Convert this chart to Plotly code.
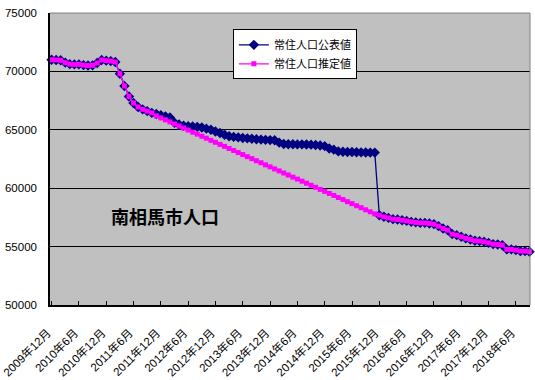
import plotly.graph_objects as go

# ---- data ----
start_year, start_month, n_months = 2009, 12, 106
months = []
y, m = start_year, start_month
for _ in range(n_months):
    months.append(f"{y}年{m}月")
    m += 1
    if m > 12:
        m = 1
        y += 1

published = [
    71000, 70980, 70950, 70750, 70620, 70600, 70600, 70540, 70500, 70520,
    70720, 70980, 70920, 70880, 70800, 69800, 68750, 67850, 67300, 66950,
    66750, 66600, 66450, 66350, 66250, 66150, 66050, 65600, 65450, 65350,
    65300, 65280, 65250, 65200, 65100, 65000, 64850, 64730, 64580, 64450,
    64390, 64350, 64300, 64270, 64230, 64190, 64160, 64140, 64120, 64100,
    63900, 63780, 63760, 63760, 63750, 63750, 63740, 63730, 63700, 63650,
    63600, 63400, 63300, 63150, 63120, 63100, 63100, 63080, 63070, 63060,
    63050, 63050, 57690, 57550, 57460, 57350, 57320, 57260, 57200, 57120,
    57070, 57030, 57030, 56980, 56920, 56750, 56550, 56410, 56070, 55980,
    55840, 55700, 55610, 55500, 55470, 55410, 55320, 55210, 55180, 55130,
    54760, 54760, 54700, 54610, 54610, 54560,
]

# estimate values that differ from the published series (2011-11 .. 2015-11)
estimate_mid = [
    66200, 66020, 65850, 65680, 65500, 65330, 65150, 64980, 64800, 64630,
    64450, 64280, 64100, 63930, 63750, 63580, 63400, 63230, 63050, 62880,
    62700, 62530, 62350, 62180, 62000, 61830, 61650, 61480, 61300, 61130,
    60950, 60780, 60600, 60430, 60250, 60080, 59900, 59730, 59550, 59380,
    59200, 59030, 58850, 58680, 58500, 58330, 58150, 57980, 57800,
]
estimate = published[:23] + estimate_mid + published[72:]

series_names = ["常住人口公表値", "常住人口推定値"]
tick_step = 6
y_ticks = [50000, 55000, 60000, 65000, 70000, 75000]
y_ticktext = [str(v) for v in y_ticks]
chart_title = "南相馬市人口"

x_idx = list(range(len(months)))
tickvals = x_idx[::tick_step]
ticktext = [months[i] for i in tickvals]

fig = go.Figure()
fig.add_trace(go.Scatter(
    x=x_idx, y=published, name=series_names[0], mode="lines+markers",
    line=dict(color="#000080", width=1.3),
    marker=dict(symbol="diamond", size=8, color="#000080"),
    cliponaxis=False,
))
fig.add_trace(go.Scatter(
    x=x_idx, y=estimate, name=series_names[1], mode="lines+markers",
    line=dict(color="#FF00FF", width=1.3),
    marker=dict(symbol="square", size=5, color="#FF00FF"),
    cliponaxis=False,
))

base_font = "Liberation Sans, Noto Sans CJK JP, sans-serif"

fig.update_layout(
    width=535, height=380,
    margin=dict(l=50, r=5, t=13, b=75),
    paper_bgcolor="white",
    plot_bgcolor="#C0C0C0",
    font=dict(family=base_font, color="black", size=11),
    showlegend=True,
    legend=dict(
        x=0.381, y=0.944, xanchor="left", yanchor="top",
        bgcolor="white", bordercolor="black", borderwidth=1,
        font=dict(family="Noto Sans CJK JP, sans-serif", size=11, color="black"),
        itemwidth=30, tracegroupgap=0,
    ),
    xaxis=dict(
        range=[-0.35, len(months) - 1 + 0.1],
        tickmode="array", tickvals=tickvals, ticktext=ticktext,
        tickangle=-45,
        ticks="inside", ticklen=4, tickcolor="black", tickwidth=1,
        showline=True, linecolor="black", linewidth=1.5,
        showgrid=False, zeroline=False, automargin=False,
        tickfont=dict(family=base_font, size=11.5, color="black"),
        ticklabelstandoff=15, ticklabelshift=-4,
    ),
    yaxis=dict(
        range=[y_ticks[0], y_ticks[-1]],
        tickmode="array", tickvals=y_ticks, ticktext=y_ticktext,
        showline=True, linecolor="black", linewidth=1.5,
        showgrid=True, gridcolor="black", gridwidth=1,
        zeroline=False, ticks="", automargin=False,
        tickfont=dict(family=base_font, size=11.5, color="black"),
        ticklabelstandoff=9,
    ),
    shapes=[
        dict(type="line", xref="paper", yref="paper", x0=0, x1=1, y0=1, y1=1,
             line=dict(color="#808080", width=1), layer="above"),
        dict(type="line", xref="paper", yref="paper", x0=1, x1=1, y0=0, y1=1,
             line=dict(color="#808080", width=1), layer="above"),
    ],
    annotations=[
        dict(text=f"<b>{chart_title}</b>", xref="paper", yref="paper",
             x=0.24, y=0.306, xanchor="center", yanchor="middle", showarrow=False,
             font=dict(family="Noto Sans CJK JP, sans-serif", size=18, color="black")),
    ],
)

fig.write_html(
    "out.html",
    config={"displayModeBar": False},
    post_script="document.body.style.margin='0px'; document.body.style.overflow='hidden';",
)
